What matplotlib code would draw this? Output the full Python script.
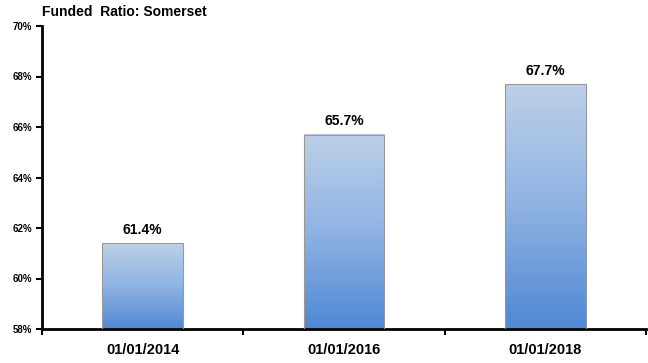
import numpy as np
import matplotlib
matplotlib.use('Agg')
import matplotlib.pyplot as plt
from matplotlib.colors import LinearSegmentedColormap
from matplotlib.ticker import FuncFormatter

# data
dates = ['01/01/2014', '01/01/2016', '01/01/2018']
funded = [61.4, 65.7, 67.7]
y_ticks = [58, 60, 62, 64, 66, 68, 70]
y_min, y_max = 58, 70

plt.rcParams['font.family'] = ['Liberation Sans', 'DejaVu Sans']

fig = plt.figure(figsize=(6.48, 3.63), dpi=100)
ax = fig.add_axes([42 / 648, 1 - 329 / 363, 604 / 648, 303 / 363])

# bottom -> top gradient
grad_cmap = LinearSegmentedColormap.from_list('bar', ['#4f88d5', '#8fb3e3', '#bdd0e8'])
grad = np.linspace(0, 1, 256).reshape(-1, 1)

width = 0.4
x = np.arange(len(dates))
for xi, val in zip(x, funded):
    ax.imshow(grad, cmap=grad_cmap, origin='lower', aspect='auto',
              extent=(xi - width / 2, xi + width / 2, y_min, val), zorder=2)
    ax.bar(xi, val - y_min, bottom=y_min, width=width, facecolor='none',
           edgecolor='#999999', linewidth=0.8, zorder=3)
    ax.text(xi, val + 0.25, f'{val:.1f}%', ha='center', va='bottom',
            fontsize=10, fontweight='bold')

ax.set_xlim(-0.5, len(dates) - 0.5)
ax.set_ylim(y_min, y_max)

ax.set_yticks(y_ticks)
ax.yaxis.set_major_formatter(FuncFormatter(lambda v, p: f'{v:.0f}%'))
ax.tick_params(axis='y', direction='out', length=4, width=1.5, labelsize=7, pad=3)
for lbl in ax.get_yticklabels():
    lbl.set_fontweight('bold')

# boundary ticks on x, labels in the middle
ax.set_xticks(np.arange(len(dates) + 1) - 0.5)
ax.set_xticklabels([])
ax.set_xticks(x, minor=True)
ax.set_xticklabels(dates, minor=True, fontsize=10.5, fontweight='bold')
ax.tick_params(axis='x', which='major', direction='out', length=4, width=1.5)
ax.tick_params(axis='x', which='minor', length=0, pad=10)

for s in ['top', 'right']:
    ax.spines[s].set_visible(False)
ax.spines['left'].set_linewidth(2)
ax.spines['bottom'].set_linewidth(2)

fig.text(42 / 648, 1 - 12 / 363, 'Funded  Ratio: Somerset', fontsize=10,
         fontweight='bold', va='center', ha='left')

fig.savefig('out.png', dpi=100)
